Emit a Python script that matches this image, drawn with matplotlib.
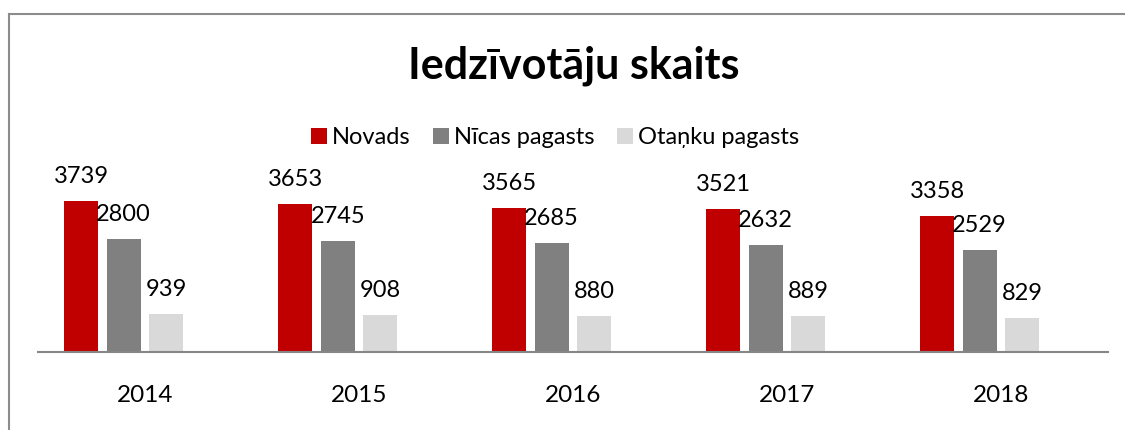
import numpy as np
import matplotlib.pyplot as plt
from matplotlib.lines import Line2D

plt.rcParams['font.family'] = ['Lato', 'DejaVu Sans']

# Data
years = ['2014', '2015', '2016', '2017', '2018']
novads = [3739, 3653, 3565, 3521, 3358]
nicas = [2800, 2745, 2685, 2632, 2529]
otanku = [939, 908, 880, 889, 829]
series_names = ['Novads', 'Nīcas pagasts', 'Otaņku pagasts']
colors = ['#C00000', '#808080', '#D9D9D9']

W, H = 1125, 430
fig = plt.figure(figsize=(W / 100, H / 100), dpi=100)

# Axes placed in pixel terms
ax = fig.add_axes([38 / W, 78 / H, 1070 / W, 162 / H])

x = np.arange(len(years))
slot = 0.1986
bar_w = 0.159
offsets = [-1.5 * slot, -0.5 * slot, 0.5 * slot]  # 4th slot is empty

for vals, off, col, name in zip([novads, nicas, otanku], offsets, colors, series_names):
    bars = ax.bar(x + off, vals, width=bar_w, color=col, label=name)
    for b, v in zip(bars, vals):
        ax.annotate(str(v), (b.get_x() + b.get_width() / 2, v),
                    xytext=(0, 13), textcoords='offset points',
                    ha='center', va='baseline', fontsize=17, color='black',
                    annotation_clip=False)

ax.set_xlim(-0.5, len(years) - 0.5)
ax.set_ylim(0, 4000)
ax.set_xticks(x)
ax.set_xticklabels(years, fontsize=17.5)
ax.tick_params(axis='x', length=0, pad=24)
ax.set_yticks([])
for s in ['top', 'right', 'left']:
    ax.spines[s].set_visible(False)
ax.spines['bottom'].set_color('#868686')
ax.spines['bottom'].set_linewidth(1.5)

# Title
fig.text(574 / W, 1 - 78 / H, 'Iedzīvotāju skaits', ha='center', va='baseline',
         fontsize=31, fontweight='bold')

# Legend
fig.legend(loc='center', bbox_to_anchor=(555 / W, 1 - 138 / H), ncol=3,
           frameon=False, fontsize=17, handlelength=0.68, handleheight=0.68,
           handletextpad=0.2, columnspacing=0.95)

# Chart border (left and top edges visible)
fig.add_artist(Line2D([9 / W, 9 / W], [0, 1 - 14 / H], transform=fig.transFigure,
                      color='#8c8c8c', lw=1.5))
fig.add_artist(Line2D([9 / W, 1], [1 - 14 / H, 1 - 14 / H], transform=fig.transFigure,
                      color='#8c8c8c', lw=1.5))

fig.savefig('out.png', dpi=100)
